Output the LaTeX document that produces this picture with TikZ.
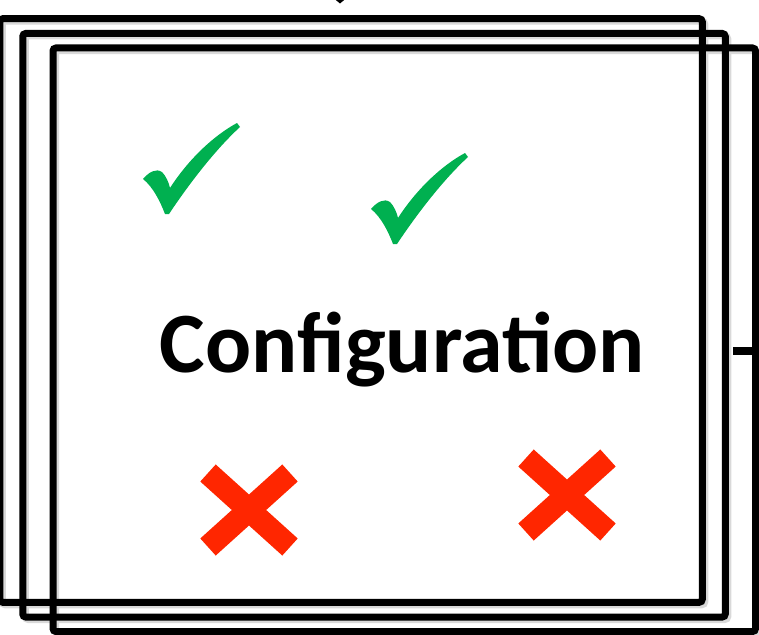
\documentclass[tikz,border=0pt]{standalone}
\usepackage{fontspec}
\setmainfont{Carlito}
\usepackage{xcolor}
\usetikzlibrary{calc, positioning, arrows.meta}
\definecolor{tickgreen}{RGB}{0,176,80}
\definecolor{crossred}{RGB}{255,38,0}
\newcommand{\greentick}[1]{\fill[tickgreen, shift={#1}] (0,56) .. controls (6,49) and (13,45) .. (19,49)
  .. controls (23,53) and (26,60) .. (27,65) .. controls (45,37) and (70,13) .. (94,0) -- (97,4)
  .. controls (72,27) and (46,61) .. (26,91) -- (22,91) .. controls (17,78) and (10,64) .. (0,56) -- cycle;}

\begin{document}
\begin{tikzpicture}[x=1pt, y=-1pt,
  frame/.style={inner sep=0pt, outer sep=0pt, minimum width=702.5pt, minimum height=583.5pt},
  frameline/.style={line width=7pt, rounded corners=3pt},
  shadowline/.style={frameline, draw=black!15},
  xmark/.style={crossred, line width=23pt}]
\useasboundingbox (0,0) rectangle (759,634);
\clip (0,0) rectangle (759,634);
\node[frame] (F1) at (351,310.5) {};
\node[frame] (F2) at (374,325.25) {};
\node[frame] (F3) at (404.25,339.75) {};
\foreach \f in {F1,F2,F3}
  \draw[shadowline] ([shift={(2.5,2.5)}]\f.north west) rectangle ([shift={(2.5,2.5)}]\f.south east);
\foreach \f in {F1,F2,F3}
  \draw[frameline] (\f.north west) rectangle (\f.south east);
\coordinate (in) at (340,-20);
\coordinate (tip) at (340,3.5);
\draw[-{Triangle[length=6pt, width=14pt]}, line width=1.5pt] (in) -- (tip);
\coordinate (out) at (733,351);
\draw[line width=8pt] (out) -- (out -| F3.east);
\node[anchor=base, font=\fontsize{86}{86}\selectfont\bfseries] (cfg) at (402.5,372) {Configuration};
\greentick{(143,123)}
\greentick{(371,153)}
\draw[xmark] (208,473) -- (290,547);
\draw[xmark] (290,473) -- (208,547);
\draw[xmark] (526,458) -- (608,532);
\draw[xmark] (608,458) -- (526,532);
\end{tikzpicture}
\end{document}
